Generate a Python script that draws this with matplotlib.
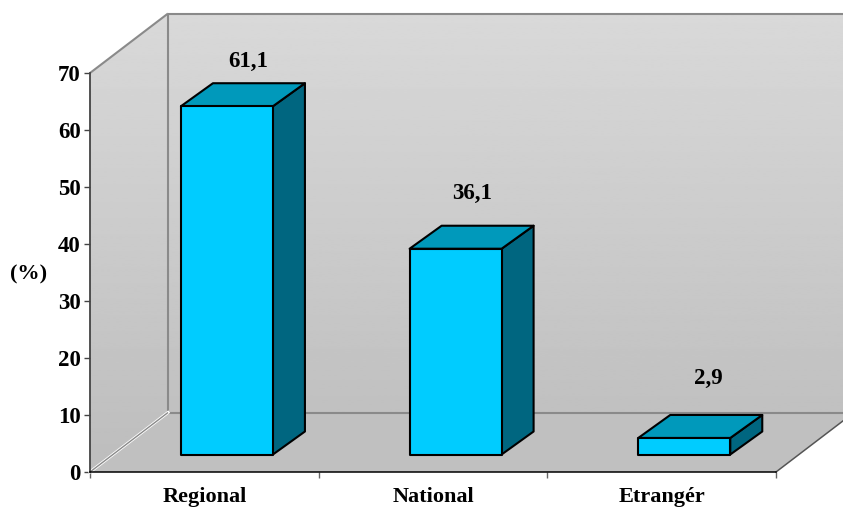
import numpy as np
import matplotlib
matplotlib.use("Agg")
import matplotlib.pyplot as plt
from matplotlib.patches import Polygon

categories = ["Regional", "National", "Etrangér"]
values = [61.1, 36.1, 2.9]
value_labels = ["61,1", "36,1", "2,9"]
y_ticks = [0, 10, 20, 30, 40, 50, 60, 70]

W, H = 843, 508
LEFT, RIGHT, BOTTOM, TOP = 90, 776, 472, 73

plt.rcParams["font.family"] = ["Liberation Serif", "DejaVu Serif"]
plt.rcParams["font.weight"] = "bold"

fig = plt.figure(figsize=(W / 100, H / 100), dpi=100, facecolor="white")
ax = fig.add_axes([LEFT / W, 1 - BOTTOM / H, (RIGHT - LEFT) / W, (BOTTOM - TOP) / H])
ax.set_xlim(0, len(categories))
ax.set_ylim(0, 70)
ax.patch.set_visible(False)

# data units per pixel along each axis
ux = len(categories) / (RIGHT - LEFT)
uy = 70 / (BOTTOM - TOP)

# depth of the box: back plane relative to the front plane
depth_x, depth_y = 78 * ux, 59.5 * uy
xmax_fig = (W - LEFT) * ux

GRAY = "#8a8a8a"

# back and side walls with a vertical gradient
gradient = np.linspace(0.74, 0.85, 256).reshape(-1, 1)
wall_top = 70 + depth_y
img = ax.imshow(gradient, cmap="gray", vmin=0, vmax=1, origin="lower", aspect="auto",
                extent=(0, xmax_fig, 0, wall_top), zorder=1)
wall_outline = Polygon([(0, 0), (0, 70), (depth_x, wall_top), (xmax_fig, wall_top),
                        (xmax_fig, depth_y), (depth_x, depth_y)],
                       closed=True, transform=ax.transData, fc="none", ec="none")
ax.add_patch(wall_outline)
img.set_clip_box(fig.bbox)
img.set_clip_path(wall_outline)
ax.set_xlim(0, len(categories))
ax.set_ylim(0, 70)

# floor of the box
floor_end = xmax_fig
floor_edge_y = depth_y * (W - RIGHT) / 78
ax.add_patch(Polygon([(0, 0), (3, 0), (floor_end, floor_edge_y), (floor_end, depth_y),
                      (depth_x, depth_y)],
                     closed=True, fc="#c0c0c0", ec="none", zorder=2, clip_on=False))

line_kw = dict(color=GRAY, lw=1.5, zorder=3, clip_on=False, solid_capstyle="butt")
ax.plot([0, depth_x], [70, wall_top], **line_kw)
ax.plot([depth_x, xmax_fig], [wall_top, wall_top], **line_kw)
ax.plot([depth_x, depth_x], [wall_top, depth_y], **line_kw)
ax.plot([depth_x, xmax_fig], [depth_y, depth_y], **line_kw)
ax.plot([0, depth_x], [0, depth_y], color="white", lw=2.2, zorder=3, clip_on=False)
ax.plot([0, depth_x], [0, depth_y], **{**line_kw, "lw": 1})
ax.plot([3, floor_end], [0, floor_edge_y], color="#555555", lw=1.1, zorder=3, clip_on=False)

# bars as three-faced boxes
bar_w = 92 * ux
front_dx, front_dy = 22.6 * ux, 17.5 * uy
bar_dx, bar_dy = 32 * ux, 23 * uy
FRONT, TOP_FACE, SIDE = "#00ccff", "#0099bb", "#006680"

for i, v in enumerate(values):
    x0 = i + 0.5 + front_dx - bar_w / 2
    x1 = x0 + bar_w
    y0 = front_dy
    y1 = front_dy + v
    style = dict(ec="black", lw=1.5, joinstyle="round", zorder=5, clip_on=False)
    ax.add_patch(Polygon([(x1, y0), (x1 + bar_dx, y0 + bar_dy), (x1 + bar_dx, y1 + bar_dy), (x1, y1)],
                         closed=True, fc=SIDE, **style))
    ax.add_patch(Polygon([(x0, y1), (x1, y1), (x1 + bar_dx, y1 + bar_dy), (x0 + bar_dx, y1 + bar_dy)],
                         closed=True, fc=TOP_FACE, **style))
    ax.add_patch(Polygon([(x0, y0), (x1, y0), (x1, y1), (x0, y1)],
                         closed=True, fc=FRONT, **style))

# value labels above the boxes
label_gap = [22, 32, 37]
label_shift = [44, 39, 47]
for i, (v, t) in enumerate(zip(values, value_labels)):
    ax.annotate(t, xy=(i + 0.5, front_dy + v + bar_dy), xytext=(label_shift[i] * 0.72, label_gap[i] * 0.72),
                textcoords="offset points", ha="center", va="center",
                fontsize=16.5, fontweight="bold", color="black", zorder=6, annotation_clip=False)

# axes
for name in ("top", "right"):
    ax.spines[name].set_visible(False)
ax.spines["left"].set_color("#444444")
ax.spines["left"].set_linewidth(1.3)
ax.spines["bottom"].set_color("black")
ax.spines["bottom"].set_linewidth(1.1)
for s in ax.spines.values():
    s.set_zorder(4)

ax.set_yticks(y_ticks)
ax.set_yticklabels([str(t) for t in y_ticks])
ax.set_xticks(range(len(categories) + 1))
ax.set_xticklabels([])
ax.tick_params(axis="y", length=4.3, width=1, color="#444444", labelsize=16.5, pad=2.5)
ax.tick_params(axis="x", length=4.3, width=1, color="#666666")
for i, c in enumerate(categories):
    ax.annotate(c, xy=(i + 0.5, 0), xytext=(0, -30 * 0.72), textcoords="offset points",
                ha="center", va="baseline", fontsize=16, fontweight="bold", annotation_clip=False)

ax.annotate("(%)", xy=(0, 35), xytext=(-61 * 0.72, -1.5 * 0.72), textcoords="offset points",
            ha="center", va="center", fontsize=16, fontweight="bold", annotation_clip=False)

fig.savefig("out.png", dpi=100, facecolor="white")
